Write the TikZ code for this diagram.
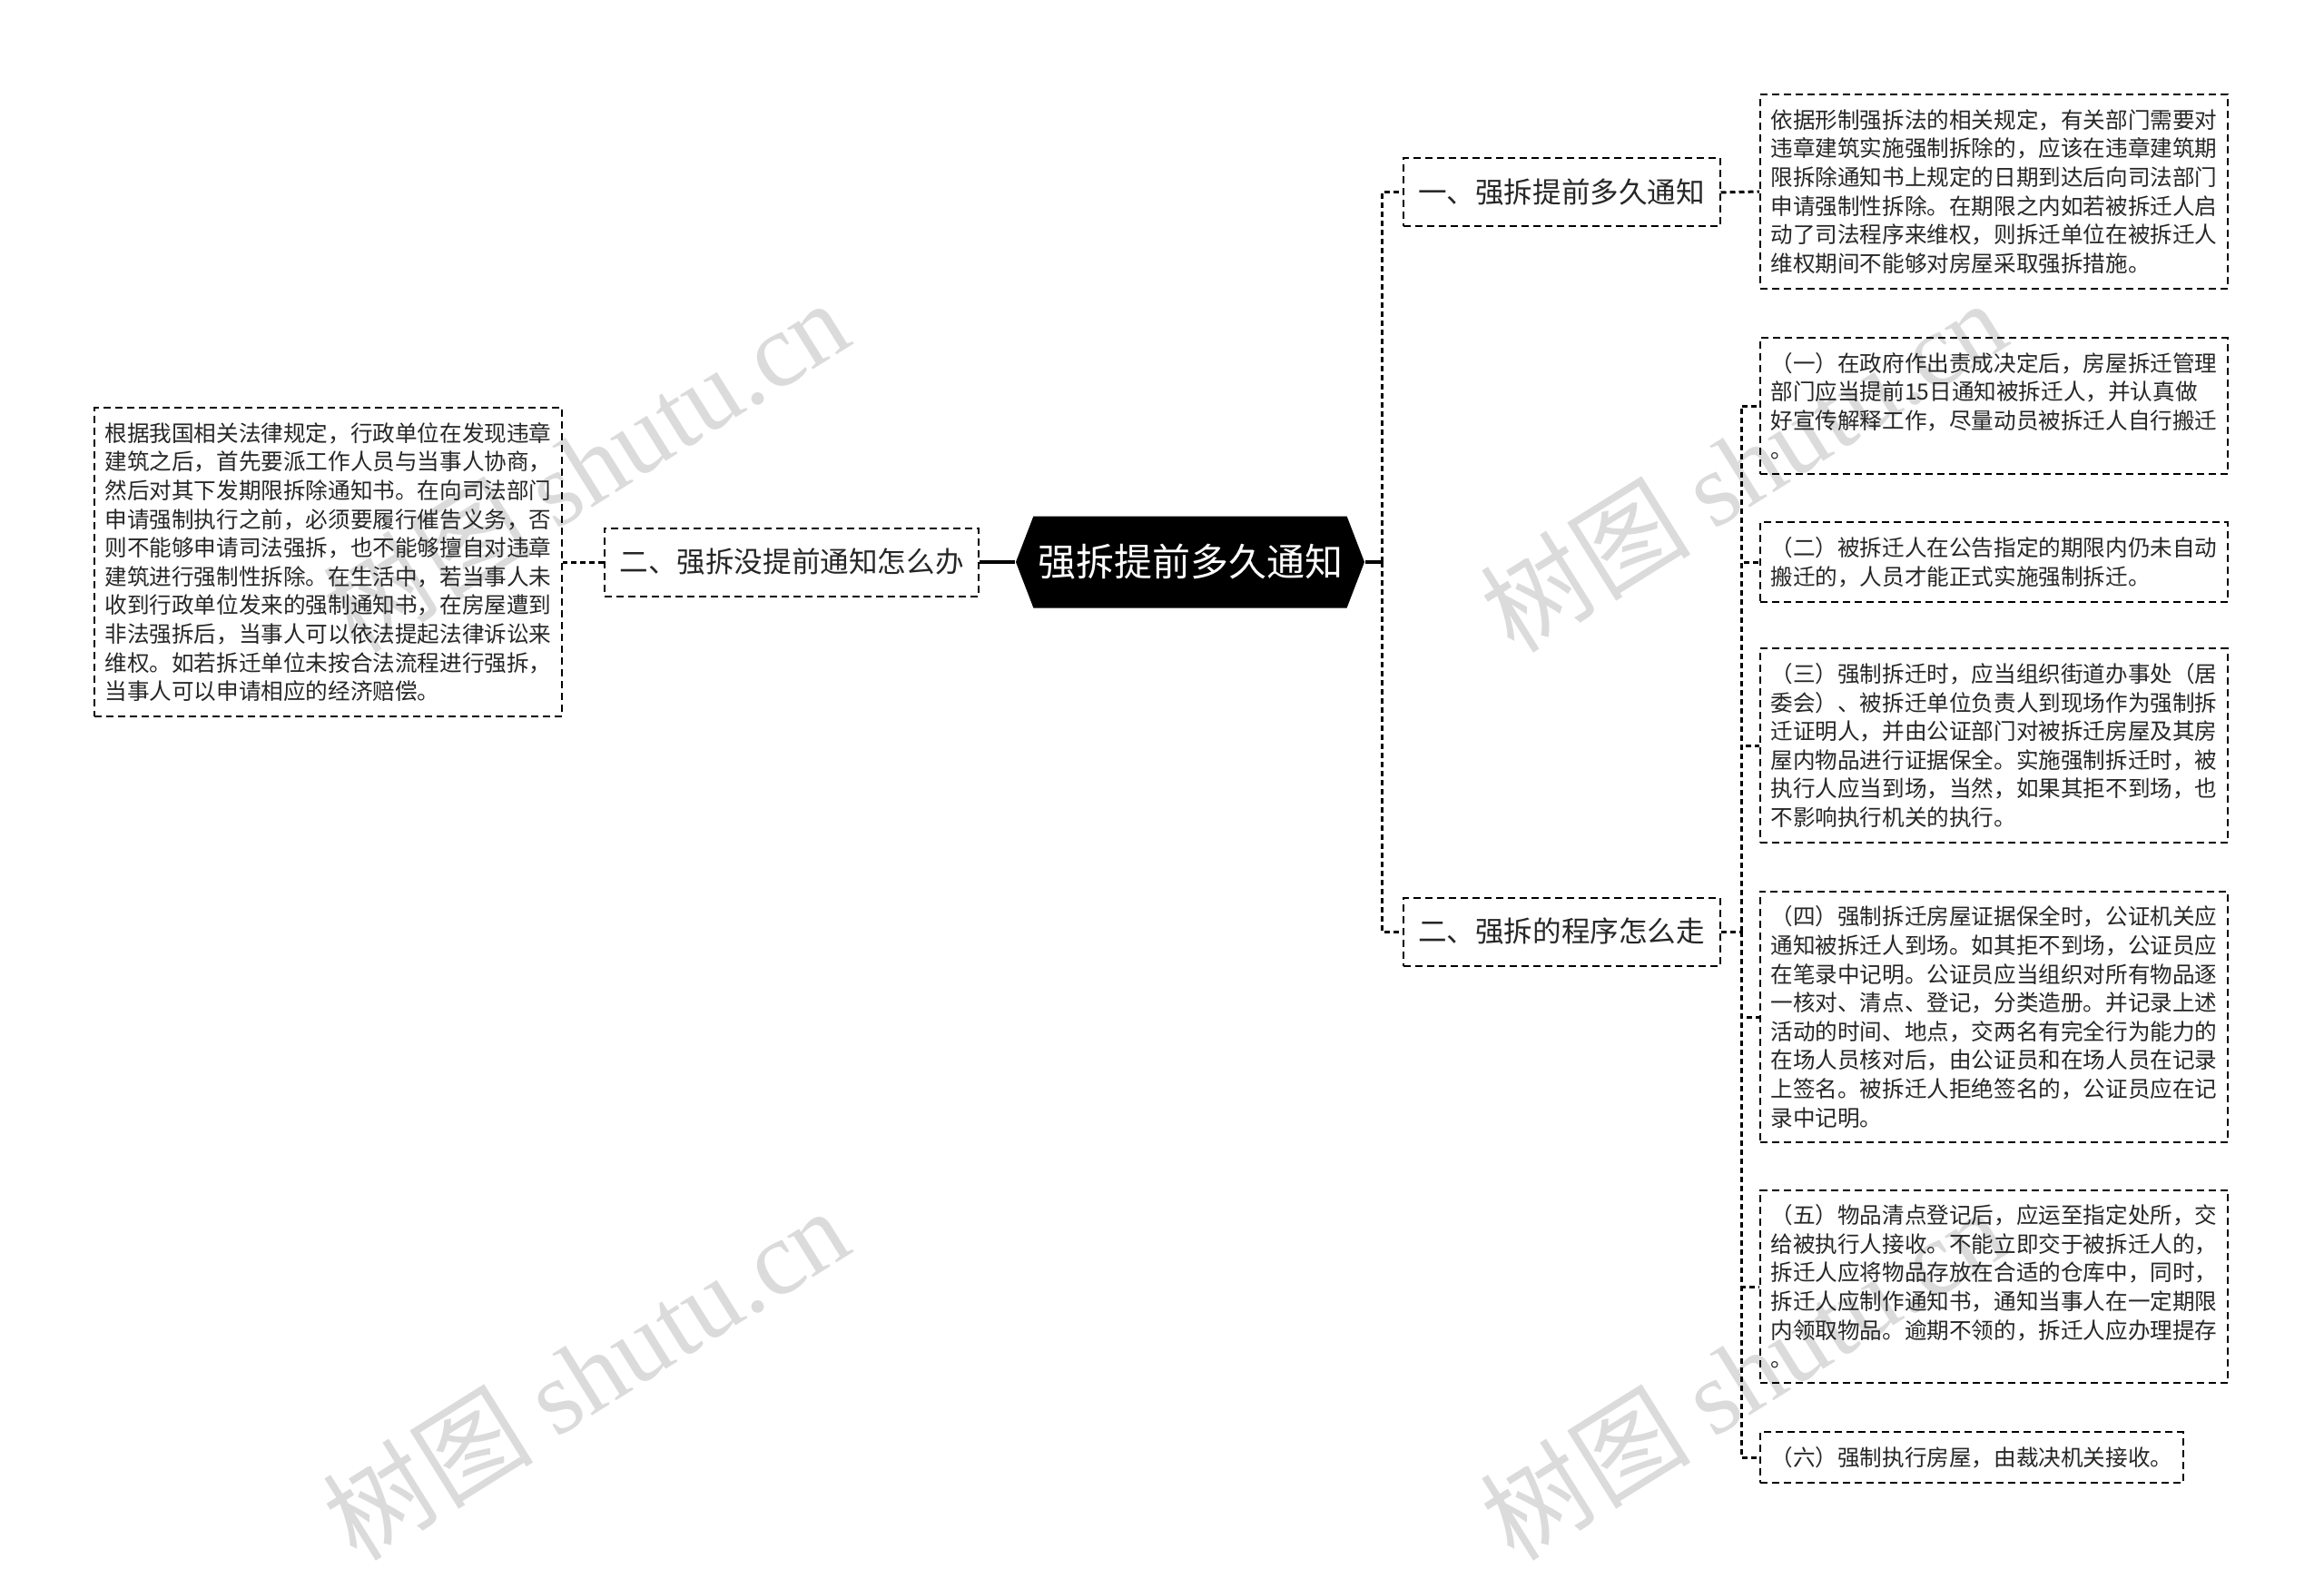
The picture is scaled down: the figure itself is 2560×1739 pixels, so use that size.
\documentclass[tikz,border=0pt]{standalone}
\usepackage{fontspec}
\setmainfont{Noto Sans CJK SC}
\newfontfamily\wmfont{Liberation Serif}
\usetikzlibrary{shapes.symbols}

\begin{document}
\begin{tikzpicture}[x=0.5pt, y=-0.5pt, line width=1pt, text=black!85,
  root/.style={signal, signal to=west and east, signal pointer angle=138, fill=black, text=white,
    font=\fontsize{21}{24}\selectfont, minimum width=192pt, minimum height=50.5pt, inner sep=0pt},
  topic/.style={draw, dash pattern=on 4pt off 2.5pt, font=\fontsize{15.8}{18}\selectfont,
    minimum height=37.5pt, inner xsep=8.25pt},
  leaf/.style={draw, dash pattern=on 4pt off 2.5pt, align=left, anchor=west,
    font=\fontsize{12.3}{15.8}\selectfont, inner xsep=5.75pt, inner ysep=8pt},
  link/.style={line width=1.5pt, dash pattern=on 3pt off 2pt},
  stem/.style={line width=2pt},
  wmark/.style={text=black!14, font=\fontsize{58}{58}\selectfont, rotate=32}]
  \useasboundingbox (0,0) rectangle (2560,1739);

  % 水印
  \node[wmark] (wm1) at (645,512) {树图 {\wmfont shutu.cn}};
  \node[wmark] (wm2) at (645,1512) {树图 {\wmfont shutu.cn}};
  \node[wmark] (wm3) at (1920,512) {树图 {\wmfont shutu.cn}};
  \node[wmark] (wm4) at (1920,1512) {树图 {\wmfont shutu.cn}};

  % 中心主题
  \node[root] (root) at (1311,619) {强拆提前多久通知};

  % 左侧分支
  \node[topic] (t2) at (872,619) {二、强拆没提前通知怎么办};
  \node[leaf, anchor=east] (lf) at (620,619) {根据我国相关法律规定，行政单位在发现违章\\
    建筑之后，首先要派工作人员与当事人协商，\\
    然后对其下发期限拆除通知书。在向司法部门\\
    申请强制执行之前，必须要履行催告义务，否\\
    则不能够申请司法强拆，也不能够擅自对违章\\
    建筑进行强制性拆除。在生活中，若当事人未\\
    收到行政单位发来的强制通知书，在房屋遭到\\
    非法强拆后，当事人可以依法提起法律诉讼来\\
    维权。如若拆迁单位未按合法流程进行强拆，\\
    当事人可以申请相应的经济赔偿。};
  \draw[stem] (root.west) -- (t2.east);
  \draw[link] (t2.west) -- (lf.east);

  % 右侧分支一
  \node[topic] (t1) at (1720,212) {一、强拆提前多久通知};
  \node[leaf] (la) at (1938,211) {依据形制强拆法的相关规定，有关部门需要对\\
    违章建筑实施强制拆除的，应该在违章建筑期\\
    限拆除通知书上规定的日期到达后向司法部门\\
    申请强制性拆除。在期限之内如若被拆迁人启\\
    动了司法程序来维权，则拆迁单位在被拆迁人\\
    维权期间不能够对房屋采取强拆措施。};

  % 右侧分支二
  \node[topic] (t3) at (1720,1026) {二、强拆的程序怎么走};
  \node[leaf] (l1) at (1938,447) {（一）在政府作出责成决定后，房屋拆迁管理\\
    部门应当提前15日通知被拆迁人，并认真做\\
    好宣传解释工作，尽量动员被拆迁人自行搬迁\\
    。};
  \node[leaf] (l2) at (1938,619) {（二）被拆迁人在公告指定的期限内仍未自动\\
    搬迁的，人员才能正式实施强制拆迁。};
  \node[leaf] (l3) at (1938,821) {（三）强制拆迁时，应当组织街道办事处（居\\
    委会）、被拆迁单位负责人到现场作为强制拆\\
    迁证明人，并由公证部门对被拆迁房屋及其房\\
    屋内物品进行证据保全。实施强制拆迁时，被\\
    执行人应当到场，当然，如果其拒不到场，也\\
    不影响执行机关的执行。};
  \node[leaf] (l4) at (1938,1120) {（四）强制拆迁房屋证据保全时，公证机关应\\
    通知被拆迁人到场。如其拒不到场，公证员应\\
    在笔录中记明。公证员应当组织对所有物品逐\\
    一核对、清点、登记，分类造册。并记录上述\\
    活动的时间、地点，交两名有完全行为能力的\\
    在场人员核对后，由公证员和在场人员在记录\\
    上签名。被拆迁人拒绝签名的，公证员应在记\\
    录中记明。};
  \node[leaf] (l5) at (1938,1417) {（五）物品清点登记后，应运至指定处所，交\\
    给被执行人接收。不能立即交于被拆迁人的，\\
    拆迁人应将物品存放在合适的仓库中，同时，\\
    拆迁人应制作通知书，通知当事人在一定期限\\
    内领取物品。逾期不领的，拆迁人应办理提存\\
    。};
  \node[leaf] (l6) at (1938,1605) {（六）强制执行房屋，由裁决机关接收。};

  % 连线
  \coordinate (rt) at (1522,619);
  \coordinate (bt) at (1918,1026);
  \draw[stem] (root.east) -- (rt);
  \draw[link] (rt) |- (t1.west) (rt) |- (t3.west);
  \draw[link] (t1.east) -- (la.west);
  \draw[link] (t3.east) -- (bt);
  \draw[link] (bt) |- (l1.west) (bt) |- (l2.west) (bt) |- (l3.west)
    (bt) |- (l4.west) (bt) |- (l5.west) (bt) |- (l6.west);
\end{tikzpicture}
\end{document}
